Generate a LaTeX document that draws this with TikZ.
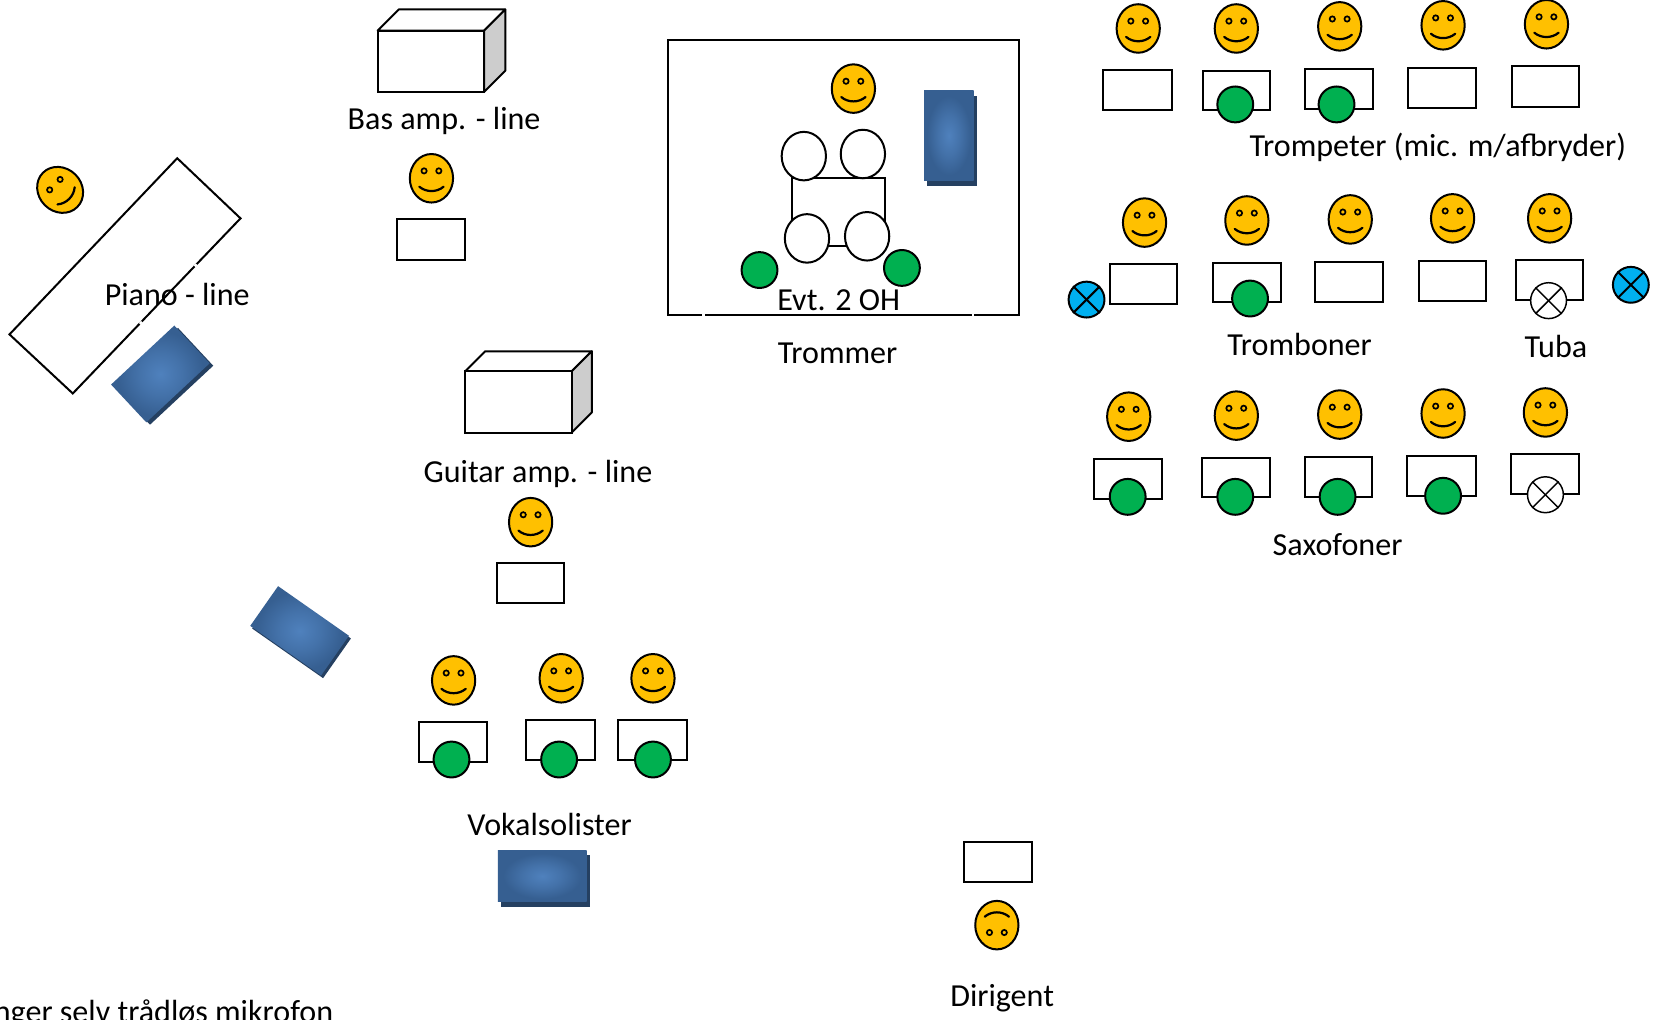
\documentclass[tikz,border=0pt]{standalone}
\usepackage{fontspec}
\setmainfont{Carlito}
\usetikzlibrary{shapes.geometric,shapes.misc}
\definecolor{facey}{HTML}{FFC000}
\definecolor{micg}{HTML}{00B050}
\definecolor{micb}{HTML}{00B0F0}
\definecolor{monin}{HTML}{4F81BD}
\definecolor{monout}{HTML}{365F91}
\definecolor{monsh}{HTML}{254061}
\definecolor{sideg}{HTML}{CDCDCD}
\pgfdeclareradialshading{monshade}{\pgfpoint{0bp}{0bp}}{color(0bp)=(monin); color(11bp)=(monin!55!monout); color(22bp)=(monout); color(50bp)=(monout)}
\tikzset{
  ln/.style={draw=black,line width=1.9},
  lbl/.style={font=\fontsize{30.4}{34}\selectfont,inner sep=0,anchor=base,text=black},
  headshape/.style={ellipse,ln,fill=facey,minimum width=41,minimum height=46,inner sep=0},
  eye/.style={draw=black,line width=1.6,fill=facey},
  stand/.style={rectangle,ln,fill=white,inner sep=0},
  micgreen/.style={circle,ln,fill=micg,minimum size=34,inner sep=0},
  micblue/.style={circle,ln,fill=micb,minimum size=34,inner sep=0},
  micwhite/.style={circle,draw=black,line width=1.4,fill=white,minimum size=34,inner sep=0},
  drum/.style={ellipse,ln,fill=white,minimum width=42,minimum height=46,inner sep=0},
  gap/.style={draw=white,line width=2.4},
}
% face: name, x, y, rotation
\newcommand{\smiler}[4]{%
  \node[headshape,rotate=#4] (#1) at (#2,#3) {};
  \begin{scope}[shift={(#2,#3)},rotate=#4]
    \draw[eye] (-7,-7) circle (2.5);
    \draw[eye] (7,-7) circle (2.5);
    \draw[ln,line width=2.1,line cap=round] (-11.5,8) .. controls (-5,13.5) and (5,13.5) .. (11.5,8);
  \end{scope}}
% stand: name, x1, y1, x2, y2
\newcommand{\standbox}[5]{%
  \node[stand,minimum width={#4-#2},minimum height={#5-#3}] (#1) at ({(#2+#4)/2},{(#3+#5)/2}) {};}
% crossed mic: name, x, y, style, line width
\newcommand{\crossmic}[5]{%
  \node[#4] (#1) at (#2,#3) {};
  \draw[draw=black,line width=#5] (#1.45) -- (#1.225);
  \draw[draw=black,line width=#5] (#1.135) -- (#1.315);}
% monitor: name, cx, cy, half length, half width, rotation, shadow dx, dy
\newcommand{\monitor}[8]{%
  \begin{scope}[shift={(#2,#3)},rotate=#6]
    \fill[monsh] ({-#4+#7},{-#5+#8}) rectangle ({#4+#7},{#5+#8});
    \node[rectangle,transform shape,minimum width={2*#4},minimum height={2*#5},inner sep=0,shading=monshade] (#1) at (0,0) {};
  \end{scope}}
% amp: name, x1, y1, x2, y2, depth
\newcommand{\ampbox}[6]{%
  \draw[ln,fill=white,line join=round] (#2,#3) -- ({#2+#6},{#3-#6}) -- ({#4+#6},{#3-#6}) -- (#4,#3) -- cycle;
  \draw[ln,fill=sideg,line join=round] (#4,#3) -- ({#4+#6},{#3-#6}) -- ({#4+#6},{#5-#6}) -- (#4,#5) -- cycle;
  \standbox{#1}{#2}{#3}{#4}{#5}}
\begin{document}
\begin{tikzpicture}[x=1pt,y=-1pt]
\useasboundingbox (0,0) rectangle (1567,966);
\clip (0,0) rectangle (1567,966);
\fill[white] (0,0) rectangle (1567,966);

% piano
\coordinate (pa) at (168,150);
\coordinate (pb) at (228,207);
\coordinate (pc) at (69,373);
\coordinate (pd) at (9,317);
\draw[ln,line join=miter,fill=white] (pa) -- (pb) -- (pc) -- (pd) -- cycle;
\draw[gap] (186.5,250.5) -- (184.5,252.5);
\draw[gap] (134.5,305) -- (132.5,307);
\smiler{fpiano}{57}{180}{45}
\monitor{mpiano}{152}{354.5}{41}{24.5}{43}{1}{4}
\node[lbl] (tpiano) at (168,290) {Piano - line};

% bass
\ampbox{abas}{358}{29}{459}{87}{20}
\node[lbl] (tbas) at (421,123) {Bas amp. - line};
\smiler{fbas}{409}{169}{0}
\standbox{sbas}{376}{208}{441}{246}

% guitar
\ampbox{agtr}{441}{352}{542}{410}{19}
\node[lbl] (tgtr) at (510,457) {Guitar amp. - line};
\smiler{fgtr}{503}{495}{0}
\standbox{sgtr}{471}{534}{535}{572}

% side monitor
\monitor{mside}{284}{598}{41}{23}{-35}{3}{1}

% vocals
\smiler{fv1}{430}{645}{0}
\smiler{fv2}{532}{643}{0}
\smiler{fv3}{619}{643}{0}
\standbox{sv1}{397}{684}{462}{722}
\standbox{sv2}{499}{683}{564}{720}
\standbox{sv3}{586}{683}{651}{720}
\node[micgreen] (gv1) at (428,720) {};
\node[micgreen] (gv2) at (530,720) {};
\node[micgreen] (gv3) at (619,720) {};
\node[lbl] (tvok) at (521,792) {Vokalsolister};
\monitor{mvok}{514}{830.5}{42}{24.5}{0}{3}{4.5}

% conductor
\standbox{sdir}{914}{798}{978}{836}
\smiler{fdir}{945}{877}{180}
\node[lbl] (tdir) at (950,954) {Dirigent};

% drums
\standbox{sdr}{633}{38}{966}{299}
\draw[gap] (665.5,299) -- (668,299);
\draw[gap] (921,299) -- (923.5,299);
\smiler{fdr}{809}{84}{0}
\monitor{mdr}{899.5}{128.5}{23.5}{42.5}{0}{3}{5}
\standbox{skit}{751}{169}{839}{233}
\node[drum] (d1) at (762,148) {};
\node[drum] (d2) at (818,146) {};
\node[drum] (d3) at (765,226) {};
\node[drum] (d4) at (822,224) {};
\node[micgreen] (goh1) at (720,256) {};
\node[micgreen] (goh2) at (855,254) {};
\node[lbl] (toh) at (795,294) {Evt. 2 OH};
\node[lbl] (ttr) at (794,345) {Trommer};

% trumpets
\smiler{ft1}{1079}{27}{0}
\smiler{ft2}{1172}{27}{0}
\smiler{ft3}{1270}{25}{0}
\smiler{ft4}{1368}{24}{0}
\smiler{ft5}{1466}{23}{0}
\standbox{st1}{1046}{66}{1111}{104}
\standbox{st2}{1140}{67}{1204}{104}
\standbox{st3}{1237}{65}{1302}{103}
\standbox{st4}{1335}{64}{1399}{102}
\standbox{st5}{1433}{63}{1497}{101}
\node[micgreen] (gt2) at (1171,99) {};
\node[micgreen] (gt3) at (1267,99) {};
\node[lbl] (ttp) at (1363,148) {Trompeter (mic. m/afbryder)};

% trombones + tuba
\smiler{fb1}{1085}{211}{0}
\smiler{fb2}{1182}{209}{0}
\smiler{fb3}{1280}{208}{0}
\smiler{fb4}{1377}{207}{0}
\smiler{fb5}{1469}{207}{0}
\standbox{sb1}{1052}{250}{1116}{288}
\standbox{sb2}{1150}{249}{1214}{286}
\standbox{sb3}{1247}{248}{1311}{286}
\standbox{sb4}{1345}{247}{1409}{285}
\standbox{sb5}{1437}{246}{1501}{284}
\node[micgreen] (gb2) at (1185,283) {};
\crossmic{xtuba}{1468}{285}{micwhite}{1.4}
\crossmic{xb1}{1030}{284}{micblue}{1.9}
\crossmic{xb2}{1546}{270}{micblue}{1.9}
\node[lbl] (ttb) at (1232,337) {Tromboner};
\node[lbl] (ttu) at (1475,339) {Tuba};

% saxes
\smiler{fs1}{1070}{395}{0}
\smiler{fs2}{1172}{394}{0}
\smiler{fs3}{1270}{393}{0}
\smiler{fs4}{1368}{392}{0}
\smiler{fs5}{1465}{391}{0}
\standbox{ss1}{1037}{435}{1102}{473}
\standbox{ss2}{1139}{434}{1204}{471}
\standbox{ss3}{1237}{433}{1301}{471}
\standbox{ss4}{1334}{432}{1399}{470}
\standbox{ss5}{1432}{430}{1497}{468}
\node[micgreen] (gs1) at (1069,471) {};
\node[micgreen] (gs2) at (1171,471) {};
\node[micgreen] (gs3) at (1268,471) {};
\node[micgreen] (gs4) at (1368,470) {};
\crossmic{xs5}{1465}{469}{micwhite}{1.4}
\node[lbl] (tsx) at (1268,527) {Saxofoner};

% footnote cut by the page
\node[lbl,anchor=base east] (tnote) at (316,969) {nger selv trådløs mikrofon};
\end{tikzpicture}
\end{document}
